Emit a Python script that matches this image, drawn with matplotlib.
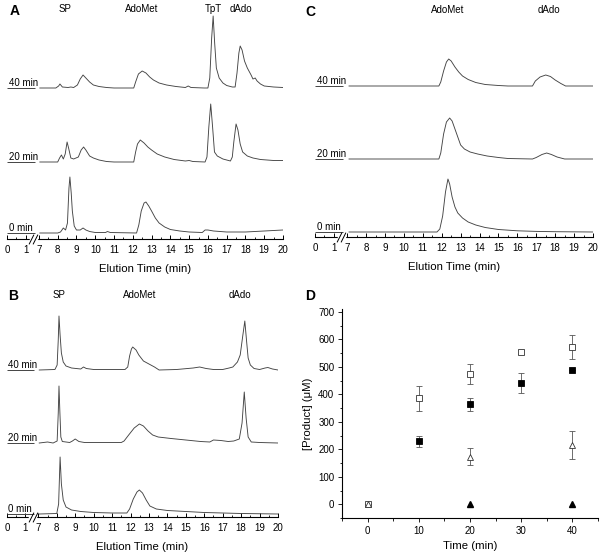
import numpy as np
import matplotlib
matplotlib.use("Agg")
import matplotlib.pyplot as plt

plt.rcParams['font.family'] = ['Liberation Sans', 'DejaVu Sans']

# ---- chromatogram traces: (elution time in min, signal above baseline) ----
a40_t = [7.05, 7.9, 8.05, 8.12, 8.25, 8.55, 8.7, 8.85, 9.05, 9.2, 9.35, 9.5, 9.7, 9.9, 10.2, 10.6, 11.0,
         12.05, 12.15, 12.3, 12.5, 12.7, 12.9, 13.1, 13.4, 13.8, 14.3, 14.8, 14.95, 15.1, 15.8, 16.0,
         16.1, 16.2, 16.28, 16.36, 16.45, 16.6, 16.8, 17.0, 17.3, 17.45, 17.55, 17.65, 17.72, 17.82,
         17.95, 18.1, 18.3, 18.4, 18.52, 18.62, 18.8, 19.0, 19.5, 20.0]
a40_y = [0, 0, 2, 4, 1, 0.5, 1, 0.5, 3, 9, 13, 10, 6, 3, 1.5, 0.5, 0,
         0, 6, 14, 17, 15, 11, 8, 5, 3, 1.5, 0.5, 2, 0.5, 0, 0,
         10, 50, 72, 45, 20, 10, 5, 2.5, 1, 1, 15, 35, 42, 38,
         27, 20, 13, 9, 10, 7, 4, 2, 1, 0.5]

a20_t = [7.05, 8.0, 8.1, 8.2, 8.3, 8.4, 8.5, 8.58, 8.7, 8.85, 9.1, 9.25, 9.38, 9.5, 9.7, 9.9, 10.2, 10.6,
         11.0, 12.05, 12.15, 12.25, 12.4, 12.6, 12.8, 13.0, 13.3, 13.7, 14.2, 14.8, 15.0, 15.2, 15.85,
         15.95, 16.05, 16.15, 16.25, 16.35, 16.5, 16.8, 17.2, 17.3, 17.38, 17.5, 17.6, 17.72, 17.85,
         18.1, 18.4, 18.8, 19.5, 20.0]
a20_y = [0, 0, 4, 7, 3, 8, 20, 14, 4, 3, 5, 12, 15, 12, 6, 4, 2, 0.5,
         0, 0, 10, 18, 22, 19, 15, 12, 8, 5, 2.5, 1, 1.5, 0.5, 0,
         5, 35, 58, 35, 10, 6, 3, 1, 5, 20, 38, 32, 18, 10,
         6, 4, 2.5, 1.5, 1.5]

a0_t = [7.05, 8.0, 8.15, 8.3, 8.42, 8.52, 8.6, 8.65, 8.72, 8.78, 8.88, 9.0, 9.2, 9.35, 9.5, 9.7, 10.0,
        10.55, 10.65, 10.8, 12.2, 12.32, 12.45, 12.6, 12.7, 12.85, 13.0, 13.2, 13.4, 13.7, 14.0, 14.5,
        15.0, 15.7, 15.85, 16.0, 16.3, 17.0, 18.0, 19.0, 20.0]
a0_y = [0, 0, 1, 5, 3, 10, 45, 56, 40, 22, 7, 3, 3, 5, 3, 1.5, 0.5,
        0.5, 1.5, 0.5, 0, 8, 22, 30, 31, 27, 22, 15, 10, 6, 3.5, 2,
        1, 0.5, 3, 3, 2, 1, 1, 2, 3]

b40_t = [7.05, 7.9, 8.02, 8.08, 8.12, 8.18, 8.25, 8.35, 8.5, 8.8, 9.3, 9.45, 9.6, 10.0, 11.7, 11.85,
         11.95, 12.05, 12.12, 12.3, 12.45, 12.7, 13.0, 13.3, 13.55, 14.5, 15.4, 15.75, 16.1, 16.5,
         17.0, 17.35, 17.55, 17.8, 17.95, 18.08, 18.2, 18.3, 18.38, 18.5, 18.7, 19.0, 19.3, 19.45,
         19.7, 20.0]
b40_y = [0, 0.5, 5, 30, 54, 35, 17, 8, 4, 2, 1, 3, 1.5, 0.5, 0.5, 3,
         14, 21, 23, 20, 15, 9, 6, 3, 0, 0.5, 2, 3, 1.5, 0.5,
         0.5, 2, 3, 8, 15, 33, 49, 28, 12, 5, 1.5, 0.5, 2, 2.5,
         1, 0]

b20_t = [7.05, 7.5, 7.8, 8.02, 8.08, 8.12, 8.17, 8.22, 8.3, 8.7, 8.85, 9.0, 9.2, 9.5, 11.5, 11.65,
         11.9, 12.2, 12.48, 12.7, 12.95, 13.2, 13.5, 14.2, 15.0, 15.8, 16.3, 16.5, 16.9, 17.3, 17.6,
         17.9, 18.05, 18.17, 18.27, 18.38, 18.55, 19.0, 20.0]
b20_y = [0, 1, 0, 2, 30, 57, 30, 6, 1.5, 0.5, 2, 4, 1.5, 0.5, 0.5, 2,
         8, 15, 19, 17, 12, 8, 6, 4.5, 3, 1.5, 1, 3, 2.5, 1.5, 2,
         4, 20, 51, 25, 6, 1, 0.5, 0]

b0_t = [7.05, 8.0, 8.1, 8.18, 8.25, 8.35, 8.5, 8.8, 9.3, 10.0, 11.0, 11.8, 11.95, 12.15, 12.35, 12.48,
        12.65, 12.85, 13.05, 13.4, 14.0, 15.0, 16.0, 17.0, 18.0, 20.0]
b0_y = [0, 0.5, 10, 57, 30, 14, 7, 4, 2.5, 1.5, 1, 1, 5, 15, 22, 24,
        21, 14, 8, 5, 3.5, 2.5, 1.5, 1, 0.5, 0]

c40_t = [7.1, 11.85, 11.95, 12.1, 12.25, 12.37, 12.5, 12.7, 12.9, 13.1, 13.4, 13.8, 14.3, 15.0, 15.5,
         16.8, 16.95, 17.2, 17.5, 17.75, 18.0, 18.3, 18.55, 20.0]
c40_y = [0, 0, 4, 15, 24, 27, 25, 19, 14, 10, 6.5, 3.5, 1.5, 0.5, 0,
         0, 5, 9, 11, 9.5, 6, 2.5, 0, 0]

c20_t = [7.1, 11.85, 11.95, 12.1, 12.25, 12.42, 12.55, 12.7, 12.85, 13.0, 13.2, 13.5, 13.9, 14.4, 15.0,
         15.5, 16.8, 17.0, 17.3, 17.55, 17.8, 18.1, 18.5, 20.0]
c20_y = [0, 0, 6, 25, 37, 41, 38, 30, 22, 14, 10, 7, 5, 3, 1.5,
         0.5, 0, 1.5, 4.5, 6, 4.5, 2, 0, 0]

c0_t = [7.1, 11.75, 11.9, 12.05, 12.2, 12.33, 12.42, 12.55, 12.7, 12.85, 13.1, 13.4, 13.8, 14.3, 15.0,
        16.0, 17.0, 18.0, 20.0]
c0_y = [0, 0, 3, 16, 40, 53, 48, 35, 25, 19, 14, 10, 7, 4.5, 2.5,
        1.2, 0.6, 0.3, 0]

# peak labels for each chromatogram panel
a_labels = ['SP', 'AdoMet', 'TpT', 'dAdo']
a_label_t = [8.4, 12.45, 16.3, 17.75]
b_labels = ['SP', 'AdoMet', 'dAdo']
b_label_t = [8.1, 12.5, 17.95]
c_labels = ['AdoMet', 'dAdo']
c_label_t = [12.3, 17.65]
time_labels = ['0 min', '20 min', '40 min']

# ---- panel D: product formation ----
d_time_osq = [0, 10, 20, 30, 40]
d_val_osq = [0, 385, 475, 554, 572]
d_err_osq = [0, 45, 36, 8, 45]
d_time_fsq = [10, 20, 30, 40]
d_val_fsq = [230, 363, 441, 490]
d_err_fsq = [20, 24, 37, 0]
d_time_otri = [0, 20, 40]
d_val_otri = [0, 172, 215]
d_err_otri = [0, 31, 51]
d_time_ftri = [20, 40]
d_val_ftri = [0, 0]

W, H = 603, 557
fig = plt.figure(figsize=(W / 100, H / 100), dpi=100)


def px_axes(left, top, right, bottom):
    return fig.add_axes([left / W, 1 - bottom / H, (right - left) / W, (bottom - top) / H])


# broken time axis: 0-1 then 7-20, squeezed gap between
def fwd(t):
    t = np.asarray(t, dtype=float)
    return np.where(t <= 1, t, np.where(t >= 7, t - 5.3, 1 + (t - 1) * 0.7 / 6))


def inv(u):
    u = np.asarray(u, dtype=float)
    return np.where(u <= 1, u, np.where(u >= 1.7, u + 5.3, 1 + (u - 1) * 6 / 0.7))


trace_col = '#444444'


def chromatogram(ax, traces, offsets, labels, label_t, label_y, ytop):
    ax.set_xscale('function', functions=(fwd, inv))
    ax.set_xlim(0, 20)
    ax.set_ylim(0, ytop)
    for (t, y), off, name in zip(traces, offsets, time_labels):
        ax.plot(t, np.array(y) + off, color=trace_col, lw=0.65)
        ax.hlines(off, 0, 5.0, color=trace_col, lw=0.7)
        ax.text(0.08, off + 0.3, name, fontsize=7, va='bottom', ha='left')
    for name, t in zip(labels, label_t):
        ax.text(t, label_y, name, fontsize=7, ha='center', va='center')
    for s in ['left', 'right', 'top']:
        ax.spines[s].set_visible(False)
    ax.spines['bottom'].set_linewidth(0.8)
    ax.set_yticks([])
    ticks = [0, 1] + list(range(7, 21))
    ax.set_xticks(ticks)
    ax.set_xticklabels([str(v) for v in ticks], fontsize=7)
    ax.set_xticks([0.5] + [v + 0.5 for v in range(7, 20)], minor=True)
    ax.tick_params(axis='x', which='major', direction='in', length=3, width=0.7, pad=4.5)
    ax.tick_params(axis='x', which='minor', direction='in', length=1.8, width=0.6)
    ax.set_xlabel('Elution Time (min)', fontsize=8.2, labelpad=6)
    # axis break marks
    tr = ax.get_xaxis_transform()
    ax.plot([3.2, 5.6], [0, 0], color='white', lw=2.5, transform=tr, clip_on=False, zorder=5)
    for tb in [3.4, 5.3]:
        ax.plot([tb], [0], marker=[(-1, -2), (1, 2)], ms=7, mew=0.7, color='black',
                transform=tr, clip_on=False, zorder=6)


axA = px_axes(7, 0, 283, 239)
chromatogram(axA, [(a0_t, a0_y), (a20_t, a20_y), (a40_t, a40_y)], [6, 77, 151],
             a_labels, a_label_t, 230, 239)

axB = px_axes(7, 280, 278, 517)
chromatogram(axB, [(b0_t, b0_y), (b20_t, b20_y), (b40_t, b40_y)], [3, 74, 147],
             b_labels, b_label_t, 222, 237)

axC = px_axes(315, 0, 593, 237)
chromatogram(axC, [(c0_t, c0_y), (c20_t, c20_y), (c40_t, c40_y)], [5, 78, 151],
             c_labels, c_label_t, 227, 237)

# ---- panel D ----
axD = px_axes(342, 309, 598, 518)
ecol = '#555555'
ebkw = dict(ecolor=ecol, elinewidth=0.6, capsize=2.2, capthick=0.6, ls='none')
axD.errorbar(d_time_osq, d_val_osq, yerr=d_err_osq, marker='s', ms=4.2, mfc='white',
             mec='#333333', mew=0.6, **ebkw)
axD.errorbar(d_time_fsq, d_val_fsq, yerr=d_err_fsq, marker='s', ms=4.2, mfc='black',
             mec='black', mew=0.6, **ebkw)
axD.errorbar(d_time_otri, d_val_otri, yerr=d_err_otri, marker='^', ms=4.8, mfc='white',
             mec='#333333', mew=0.6, **ebkw)
axD.plot(d_time_ftri, d_val_ftri, marker='^', ms=4.8, color='black', ls='none')
axD.set_xlim(-5, 45)
axD.set_ylim(-50, 710)
axD.set_xticks([0, 10, 20, 30, 40])
axD.set_xticks([-5, 5, 15, 25, 35, 45], minor=True)
axD.set_yticks(range(0, 701, 100))
axD.set_yticks(range(-50, 701, 50), minor=True)
axD.tick_params(which='major', direction='out', length=3, width=0.6, labelsize=7, pad=2.5)
axD.tick_params(which='minor', direction='out', length=1.8, width=0.6)
for s in ['right', 'top']:
    axD.spines[s].set_visible(False)
for s in ['left', 'bottom']:
    axD.spines[s].set_linewidth(0.8)
axD.set_xlabel('Time (min)', fontsize=8.2, labelpad=4)
axD.set_ylabel('[Product] (\u03bcM)', fontsize=8.2, labelpad=4)

# panel letters
for letter, x, y in [('A', 10, 11), ('B', 8, 296), ('C', 305, 12), ('D', 305, 296)]:
    fig.text(x / W, 1 - y / H, letter, fontsize=10, fontweight='bold', ha='left', va='center')

fig.savefig('out.png', dpi=100)
